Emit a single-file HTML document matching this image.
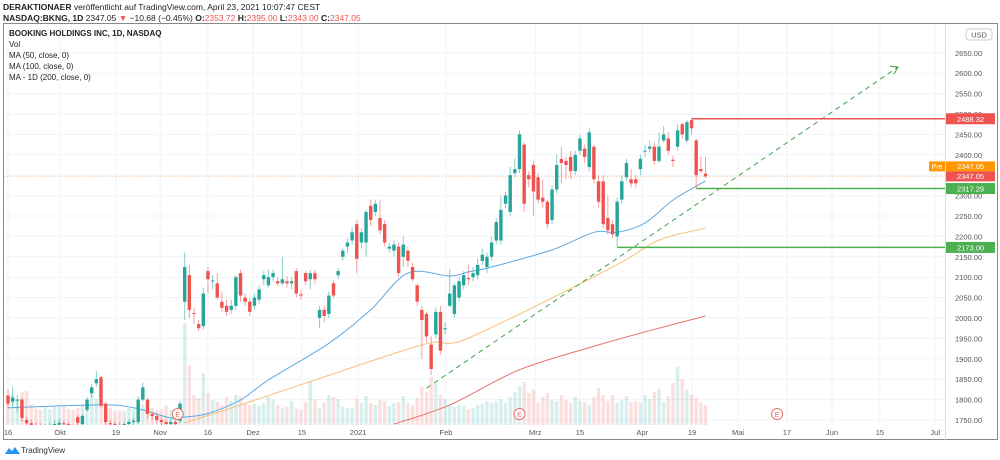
<!DOCTYPE html>
<html><head><meta charset="utf-8">
<style>
html,body{margin:0;padding:0;background:#fff;}
svg{display:block;font-family:"Liberation Sans",sans-serif;}
</style></head>
<body>
<svg id="chart" width="1000" height="460" viewBox="0 0 1000 460">
<defs><clipPath id="plotclip"><rect x="4" y="24" width="941" height="401"/></clipPath></defs>
<text x="3" y="10" font-size="8.5" fill="#222"><tspan font-weight="bold">DERAKTIONAER</tspan> veröffentlicht auf TradingView.com, April 23, 2021 10:07:47 CEST</text>
<text x="3" y="21" font-size="8.5" fill="#222"><tspan font-weight="bold">NASDAQ:BKNG, 1D</tspan> 2347.05 <tspan fill="#ef5350">▼</tspan> −10.68 (−0.45%) <tspan font-weight="bold">O:</tspan><tspan fill="#ef5350">2353.72</tspan> <tspan font-weight="bold">H:</tspan><tspan fill="#ef5350">2395.00</tspan> <tspan font-weight="bold">L:</tspan><tspan fill="#ef5350">2343.00</tspan> <tspan font-weight="bold">C:</tspan><tspan fill="#ef5350">2347.05</tspan></text>
<rect x="3.5" y="23.5" width="994" height="416" fill="none" stroke="#888" stroke-width="1"/>
<line x1="945.5" y1="24" x2="945.5" y2="440" stroke="#ddd"/>
<g id="grid"></g>
<g id="vol" clip-path="url(#plotclip)"></g>
<g id="lines" clip-path="url(#plotclip)"></g>
<g id="candles" clip-path="url(#plotclip)"></g>
<g id="overlay"></g>
<g id="axes"></g>
<g font-size="8" fill="#222">
<text x="9" y="36" font-weight="bold">BOOKING HOLDINGS INC, 1D, NASDAQ</text>
<text x="9" y="47">Vol</text>
<text x="9" y="58">MA (50, close, 0)</text>
<text x="9" y="69">MA (100, close, 0)</text>
<text x="9" y="80">MA - 1D (200, close, 0)</text>
</g>
<g>
<path d="M5 454 l4 -6 l3 3 l3 -4 l5 7 z" fill="#2196f3"/>
<text x="21" y="453" font-size="8" fill="#333">TradingView</text>
</g>
<g>
<rect x="966" y="29" width="26" height="11" rx="3" fill="#fff" stroke="#ccc"/>
<text x="979" y="37.5" font-size="7.5" fill="#555" text-anchor="middle">USD</text>
</g>
</svg>
<script>
const opens=[1810,1795,1798,1800,1750,1742,1738,1735,1730,1734,1736,1738,1742,1740,1735,1757,1740,1775,1815,1840,1855,1790,1742,1740,1738,1735,1740,1745,1745,1800,1800,1765,1760,1750,1745,1740,1745,1748,2040,2105,2012,1985,1980,2115,2090,2085,2040,2030,2020,2030,2110,2050,2040,2030,2045,2095,2080,2100,2090,2085,2090,2085,2115,2058,2110,2095,2110,2000,2020,2010,2085,2105,2150,2175,2190,2230,2185,2185,2275,2260,2245,2230,2170,2165,2175,2150,2165,2125,2080,2020,2010,1935,1960,2015,1972,2030,2010,2050,2080,2098,2100,2105,2140,2125,2150,2190,2190,2280,2260,2355,2365,2425,2350,2375,2345,2295,2285,2240,2315,2390,2385,2395,2360,2410,2415,2370,2420,2335,2335,2245,2230,2200,2290,2345,2340,2340,2365,2408,2415,2420,2385,2435,2440,2388,2420,2475,2435,2485,2435,2365,2353.72];
const closes=[1790,1805,1800,1755,1742,1738,1735,1730,1734,1738,1740,1743,1740,1735,1730,1743,1760,1800,1830,1850,1785,1745,1740,1738,1735,1740,1745,1748,1800,1830,1765,1760,1750,1745,1740,1745,1740,1790,2125,2020,2010,1975,2060,2095,2092,2050,2025,2015,2030,2100,2055,2040,2015,2050,2070,2105,2100,2110,2085,2095,2085,2090,2060,2055,2090,2110,2095,2020,2005,2055,2055,2115,2165,2185,2210,2145,2210,2260,2240,2280,2215,2185,2175,2180,2110,2180,2140,2095,2040,1995,1955,1875,2015,1920,1975,2060,2080,2090,2105,2095,2110,2130,2155,2150,2185,2235,2265,2300,2350,2365,2450,2280,2340,2310,2290,2285,2230,2315,2375,2380,2375,2360,2400,2440,2395,2455,2340,2285,2230,2215,2205,2285,2335,2380,2330,2330,2390,2410,2420,2385,2420,2450,2410,2385,2460,2450,2480,2465,2350,2360,2347.05];
const highs=[1825,1830,1812,1805,1758,1750,1745,1742,1740,1745,1748,1752,1748,1746,1740,1762,1764,1806,1838,1870,1858,1795,1750,1746,1744,1746,1752,1755,1808,1842,1805,1770,1765,1756,1750,1752,1752,1796,2160,2130,2025,1995,2075,2125,2105,2110,2065,2045,2045,2105,2118,2060,2048,2060,2078,2115,2118,2120,2100,2150,2102,2100,2122,2068,2115,2118,2118,2030,2030,2065,2092,2122,2170,2195,2222,2240,2220,2265,2290,2290,2290,2240,2185,2190,2185,2200,2175,2135,2085,2030,2015,1955,2025,2030,1990,2120,2085,2100,2115,2130,2125,2145,2170,2160,2200,2245,2300,2310,2370,2390,2460,2430,2360,2385,2355,2340,2290,2325,2400,2420,2395,2410,2410,2450,2425,2465,2425,2350,2350,2300,2240,2295,2350,2390,2365,2350,2400,2425,2435,2430,2455,2470,2455,2398,2475,2480,2485,2488,2440,2395,2395];
const lows=[1780,1785,1770,1745,1735,1730,1728,1722,1725,1728,1730,1732,1733,1728,1724,1738,1736,1770,1805,1832,1780,1738,1732,1730,1728,1730,1734,1738,1740,1795,1755,1750,1742,1738,1732,1735,1733,1742,1995,2000,1985,1968,1972,2060,2070,2045,2015,2005,2010,2020,2040,2030,2005,2020,2035,2080,2075,2090,2078,2080,2075,2070,2050,2045,2080,2070,2085,1975,1990,2000,2048,2095,2140,2160,2180,2110,2170,2150,2225,2250,2205,2175,2160,2150,2100,2125,2125,2090,2030,1900,1940,1860,1950,1910,1960,2025,2000,2040,2070,2080,2090,2095,2130,2110,2140,2180,2180,2270,2250,2345,2355,2260,2320,2250,2280,2270,2220,2230,2305,2330,2340,2340,2350,2400,2380,2360,2330,2270,2220,2205,2195,2173,2280,2335,2320,2320,2350,2395,2405,2375,2380,2430,2400,2370,2410,2440,2430,2450,2317,2355,2343];
const volumes=[220,300,260,330,340,210,160,150,180,160,180,180,200,160,150,170,210,250,300,260,270,180,170,140,150,140,170,160,250,210,180,170,150,160,200,150,160,220,1020,600,300,270,520,320,250,230,200,280,240,300,280,220,200,210,190,220,280,250,200,170,180,240,160,150,230,440,260,170,220,300,280,260,180,170,170,260,220,290,220,200,250,240,190,220,230,290,220,200,270,380,330,480,420,300,260,200,180,200,190,160,170,200,210,240,220,240,260,220,280,330,390,430,320,350,230,280,320,250,240,300,250,220,280,240,230,200,280,370,300,240,300,220,250,290,230,240,220,300,260,330,360,230,290,420,580,460,350,300,270,230,200];
const ma50Idx=[0,20,27,35,38,43,50,56,69,78,86,95,99,104,117,126,131,137,143,150];
const ma50Val=[1780,1787,1780,1755,1757,1766,1799,1848,1938,2020,2110,2103,2113,2125,2167,2210,2210,2233,2289,2336];
const ma100Idx=[38,50,66,89,95,99,114,132,140,150];
const ma100Val=[1743,1787,1848,1934,1938,1951,2032,2137,2191,2220];
const ma200Idx=[83,95,110,127,140,150];
const ma200Val=[1740,1787,1873,1934,1975,2005];
const priceTicks=[1750,1800,1850,1900,1950,2000,2050,2100,2150,2200,2250,2300,2350,2400,2450,2500,2550,2600,2650];
const timeLabels=["16","Okt","19","Nov","16","Dez","15","2021","Feb","Mrz","15","Apr","19","Mai","17","Jun","15","Jul"];
const timeIdx=[0,11.2,23.2,32.7,43,52.7,63.2,75.3,94.2,113.4,123,136.4,147.1,157,167.5,177.2,187.5,199.4];
const earningsIdx=[36.5,110,165.4];
const trendStart=[90,1828], trendEnd=[191.4,2615];
const levelLines=[[147,2488.32,"#ef5350"],[148,2317.29,"#4caf50"],[131,2173.00,"#4caf50"]];
const lastPrice=2347.05;

const NS="http://www.w3.org/2000/svg";
const xOf=i=>8+i*4.65;
const yOf=p=>420-(p-1750)*0.408;
const volBase=425, volScale=0.1;
function mk(tag,attrs,parent){const e=document.createElementNS(NS,tag);for(const k in attrs)e.setAttribute(k,attrs[k]);parent.appendChild(e);return e;}
const grid=document.getElementById('grid'),vol=document.getElementById('vol'),lines=document.getElementById('lines'),cg=document.getElementById('candles'),ov=document.getElementById('overlay'),ax=document.getElementById('axes');
const GREEN="#26a69a",RED="#ef5350";

priceTicks.forEach(p=>{
  const y=yOf(p);
  const l=mk('line',{x1:4,x2:945,y1:y,y2:y,stroke:"#f0f3fa","stroke-width":1},grid);
  
  
  const t=mk('text',{x:955,y:y+3,"font-size":"7.5",fill:"#555"},ax);
  t.textContent=p.toFixed(2);
  
  
});
timeLabels.forEach((s,k)=>{
  const x=xOf(timeIdx[k]);
  const l=mk('line',{x1:x,x2:x,y1:24,y2:425,stroke:"#f0f3fa","stroke-width":1},grid);
  
  
  const t=mk('text',{x:x,y:435,"font-size":"7.5",fill:"#555","text-anchor":"middle"},ax);
  t.textContent=s;
  
  
});

volumes.forEach((v,i)=>{
  const up=closes[i]>=opens[i];
  const h=v*volScale;
  const r=mk('rect',{x:xOf(i)-1.7,y:volBase-h,width:3.4,height:h,fill:up?"rgba(38,166,154,0.18)":"rgba(239,83,80,0.18)"},vol);
  
  
});

function maLine(idx,val,color,name){
  const P=idx.map((i,k)=>[xOf(i),yOf(val[k])]);
  let d="M"+P[0][0].toFixed(1)+","+P[0][1].toFixed(1);
  for(let k=0;k<P.length-1;k++){
    const p0=P[k-1]||P[k],p1=P[k],p2=P[k+1],p3=P[k+2]||P[k+1];
    const c1=[p1[0]+(p2[0]-p0[0])/6,p1[1]+(p2[1]-p0[1])/6];
    const c2=[p2[0]-(p3[0]-p1[0])/6,p2[1]-(p3[1]-p1[1])/6];
    d+=" C"+c1[0].toFixed(1)+","+c1[1].toFixed(1)+" "+c2[0].toFixed(1)+","+c2[1].toFixed(1)+" "+p2[0].toFixed(1)+","+p2[1].toFixed(1);
  }
  const pl=mk('path',{d:d,fill:"none",stroke:color,"stroke-width":1},lines);
  
  
}
maLine(ma50Idx,ma50Val,"#5fa8e0","ma50-line");
maLine(ma100Idx,ma100Val,"#f6c27a","ma100-line");
maLine(ma200Idx,ma200Val,"#e57368","ma200-line");

const lp=mk('line',{x1:4,x2:945,y1:yOf(lastPrice),y2:yOf(lastPrice),stroke:"#f7b27a","stroke-width":0.8,"stroke-dasharray":"1 2"},lines);



opens.forEach((o,i)=>{
  const c=closes[i],up=c>=o,col=up?GREEN:RED,x=xOf(i);
  const w=mk('line',{x1:x,x2:x,y1:yOf(highs[i]),y2:yOf(lows[i]),stroke:col,"stroke-width":1,opacity:0.55},cg);
  
  
  const top=yOf(Math.max(o,c)),bh=Math.max(1,yOf(Math.min(o,c))-top);
  const b=mk('rect',{x:x-1.7,y:top,width:3.4,height:bh,fill:col},cg);
  
  
});

const tl=mk('line',{x1:xOf(trendStart[0]),y1:yOf(trendStart[1]),x2:xOf(trendEnd[0]),y2:yOf(trendEnd[1]),stroke:"#43a047","stroke-width":1,"stroke-dasharray":"5 4"},ov);


(function(){const x=xOf(trendEnd[0]),y=yOf(trendEnd[1]);
const a=mk('polyline',{points:(x-8)+","+(y-1)+" "+x+","+y+" "+(x-4)+","+(y+7),fill:"none",stroke:"#43a047","stroke-width":1},ov);

})();

levelLines.forEach(([i,p,col])=>{
  const y=yOf(p);
  const l=mk('line',{x1:xOf(i),x2:945,y1:y,y2:y,stroke:col,"stroke-width":1.5},ov);
  
  
  const r=mk('rect',{x:946,y:y-5.5,width:49,height:11,fill:col},ax);
  
  
  const t=mk('text',{x:970.5,y:y+3,"font-size":"7.5",fill:"#fff","text-anchor":"middle"},ax);
  t.textContent=p.toFixed(2);
  
  
});
(function(){
  const y0=yOf(lastPrice);
  const y1=y0-15,y2=y0-5;
  const pr=mk('rect',{x:946,y:y1,width:49,height:10,fill:"#ff9800"},ax);
  
  
  const pt=mk('text',{x:970.5,y:y1+7.5,"font-size":"7.5",fill:"#fff","text-anchor":"middle"},ax);
  pt.textContent=lastPrice.toFixed(2);
  
  
  const pb=mk('rect',{x:929,y:y1,width:16,height:10,fill:"#ff9800"},ax);
  
  
  const ptt=mk('text',{x:937,y:y1+7.5,"font-size":"7",fill:"#fff","text-anchor":"middle"},ax);
  ptt.textContent="Pre";
  
  
  const lr=mk('rect',{x:946,y:y2,width:49,height:10,fill:"#ef5350"},ax);
  
  
  const lt=mk('text',{x:970.5,y:y2+7.5,"font-size":"7.5",fill:"#fff","text-anchor":"middle"},ax);
  lt.textContent=lastPrice.toFixed(2);
  
  
})();

earningsIdx.forEach(i=>{
  const x=xOf(i);
  const c=mk('circle',{cx:x,cy:414,r:5.5,fill:"#fff",stroke:"#e57368","stroke-width":1},ov);
  
  
  const t=mk('text',{x:x,y:417,"font-size":"7",fill:"#e57368","text-anchor":"middle"},ov);
  t.textContent="E";
  
  
});
</script>
</body></html>
